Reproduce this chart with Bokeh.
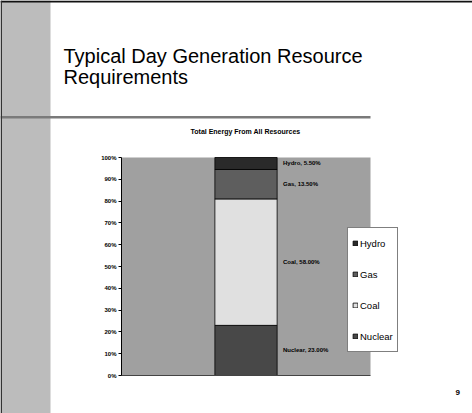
from bokeh.plotting import figure
from bokeh.models import (Label, BoxAnnotation, Legend, LegendItem, ColumnDataSource,
                          FixedTicker, PrintfTickFormatter, Range1d, LinearAxis)
from bokeh.embed import file_html
from bokeh.resources import INLINE
from bokeh.core.properties import value

# ---- data ----
slide_title_1 = "Typical Day Generation Resource"
slide_title_2 = "Requirements"
chart_title = "Total Energy From All Resources"
page_number = "9"
category = ["Total"]
series = ["Nuclear", "Coal", "Gas", "Hydro"]
shares = [23.0, 58.0, 13.5, 5.5]
y_ticks = [0, 10, 20, 30, 40, 50, 60, 70, 80, 90, 100]

# ---- layout (canvas pixels) ----
W, H = 472, 413
PL, PR, PT, PB = 121, 370, 157, 375     # chart plot area edges
colors = ["#484848", "#e0e0e0", "#5e5e5e", "#2a2a2a"]
FONT = "Liberation Sans"

# plot area spans x in [0, 1] (one category) and y in [0, 100] %
xs_per_px = 1.0 / (PR - PL)
ys_per_px = 100.0 / (PB - PT)
x_range = Range1d(-PL * xs_per_px, 1 + (W - PR) * xs_per_px)
y_range = Range1d(-(H - PB) * ys_per_px, 100 + PT * ys_per_px)

p = figure(width=W, height=H, x_range=x_range, y_range=y_range,
           x_axis_type=None, y_axis_type=None, min_border=0,
           output_backend="svg", toolbar_location=None)
p.title = None
p.background_fill_color = "white"
p.border_fill_color = "white"
p.outline_line_color = None
p.grid.visible = False

def sbox(l, r, b, t, color):
    # box in canvas pixels (origin top-left)
    return BoxAnnotation(left=l, right=r, bottom=H - b, top=H - t,
                         left_units="screen", right_units="screen",
                         bottom_units="screen", top_units="screen",
                         fill_color=color, fill_alpha=1, line_color=None, level="underlay")

# slide decorations
p.add_layout(sbox(0, 50, H, 0, "#bcbcbc"))
p.add_layout(sbox(0, PR, 118, 115.5, "#7a7a7a"))
p.add_layout(sbox(0, W, 2, 0, "#111111"))
p.add_layout(sbox(0, 1.5, H, 0, "#333333"))

# plot area background
p.add_layout(BoxAnnotation(left=0, right=1, bottom=0, top=100, fill_color="#a0a0a0",
                           fill_alpha=1, line_color=None, level="underlay"))

xs = [i + 0.5 for i in range(len(category))]
src = ColumnDataSource(dict(x=xs, **{s: [v] for s, v in zip(series, shares)}))
rs = p.vbar_stack(series, x="x", width=0.25, source=src, fill_color=colors,
                  line_color="black", line_width=0.8)

# data labels at segment middles
mids, bottom = [], 0.0
for v in shares:
    mids.append(bottom + v / 2)
    bottom += v
texts = [f"{s}, {v:.2f}%" for s, v in zip(series, shares)]
lab = ColumnDataSource(dict(x=xs * len(series), y=mids, t=texts))
p.text(x="x", y="y", text="t", source=lab, x_offset=37, text_baseline="middle",
       text_font=value(FONT), text_font_size="6px", text_font_style="bold", text_color="black")

# axes of the chart
yax = LinearAxis(fixed_location=0, bounds=(0, 100), ticker=FixedTicker(ticks=y_ticks),
                 formatter=PrintfTickFormatter(format="%d%%"))
yax.major_label_text_font = FONT
yax.major_label_text_font_size = "6px"
yax.major_label_text_font_style = "bold"
yax.major_label_text_color = "black"
yax.major_tick_line_color = "black"
yax.major_tick_out = 3
yax.major_tick_in = 0
yax.minor_tick_line_color = None
yax.axis_line_color = "black"
yax.major_label_standoff = 2
p.add_layout(yax, "left")

xax = LinearAxis(fixed_location=0, bounds=(0, 1), ticker=FixedTicker(ticks=[]))
xax.major_label_text_color = None
xax.major_tick_line_color = None
xax.minor_tick_line_color = None
xax.axis_line_color = "#444444"
p.add_layout(xax, "below")

# legend
items = [LegendItem(label=s, renderers=[r]) for s, r in reversed(list(zip(series, rs)))]
legend = Legend(items=items, location=(347, H - 352), border_line_color="black", border_line_width=1,
                background_fill_color="white", background_fill_alpha=1, padding=4, margin=0,
                spacing=9, label_height=22, glyph_height=6, glyph_width=6, label_standoff=2,
                label_text_font=FONT, label_text_font_size="9.5px", label_text_color="black")
p.add_layout(legend)

# texts
p.add_layout(Label(x=63, y=H - 66, x_units="screen", y_units="screen", text=slide_title_1,
                   text_font=FONT, text_font_size="20px", text_color="black"))
p.add_layout(Label(x=63, y=H - 87.5, x_units="screen", y_units="screen", text=slide_title_2,
                   text_font=FONT, text_font_size="20px", text_color="black"))
p.add_layout(Label(x=245, y=H - 131, x_units="screen", y_units="screen", text=chart_title,
                   text_align="center", text_baseline="middle", text_font=FONT,
                   text_font_size="7px", text_font_style="bold", text_color="black"))
p.add_layout(Label(x=455, y=H - 392, x_units="screen", y_units="screen", text=page_number,
                   text_baseline="middle", text_font=FONT, text_font_size="8px",
                   text_font_style="bold", text_color="black"))

open("out.html", "w").write(file_html(p, INLINE))
